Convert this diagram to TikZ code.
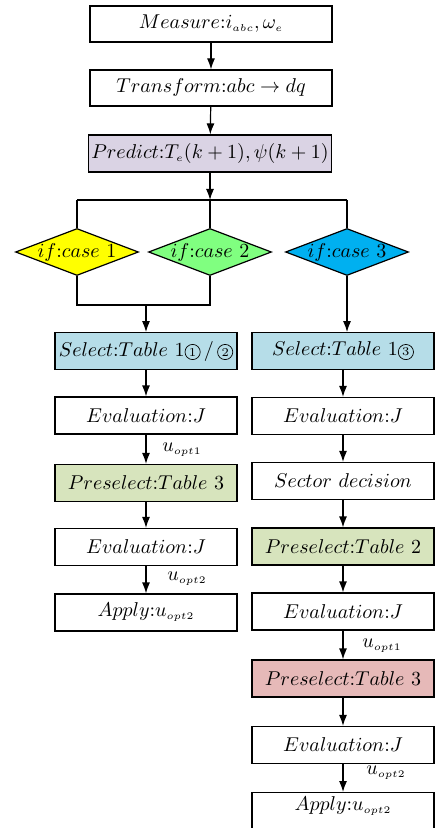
\documentclass[tikz,border=0pt]{standalone}
\usetikzlibrary{shapes.geometric,arrows.meta}
\usepackage{amsmath}
% circled digit drawn as a small outlined circle
\newcommand{\cnum}[1]{\text{\tikz[baseline=(cn.base)]\node[circle,draw,line width=0.35pt,inner sep=0pt,minimum size=7.6pt,font=\fontsize{6}{7}\selectfont] (cn) {#1};}}
\newcommand{\tinysub}[1]{_{\scriptscriptstyle #1}}
\definecolor{lavender}{HTML}{DAD3E4}
\definecolor{selblue}{HTML}{B6DDE8}
\definecolor{preg}{HTML}{D7E4BD}
\definecolor{prer}{HTML}{E6B9B8}
\definecolor{cyel}{HTML}{FFFF00}
\definecolor{cgrn}{HTML}{80FF80}
\definecolor{ccyn}{HTML}{00B0F0}
\begin{document}
\begin{tikzpicture}[x=0.5pt,y=-0.5pt,
  every path/.style={line width=0.6pt},
  wide/.style={draw,rectangle,minimum width=121pt,minimum height=18pt,inner sep=1pt},
  col/.style={draw,rectangle,minimum width=91pt,minimum height=18.5pt,inner sep=1pt},
  dec/.style={draw,diamond,minimum width=61.5pt,minimum height=23.5pt,inner sep=0pt},
  arr/.style={-{Latex[length=5.5pt,width=4pt]}},
  lab/.style={inner sep=0pt}]
\useasboundingbox (0,0) rectangle (435,828);

% main chain
\node[wide] (meas) at (211,24) {$Measure{:}i\tinysub{abc},\omega\tinysub{e}$};
\node[wide] (trans) at (211,88) {$Transform{:}abc\rightarrow dq$};
\node[wide,fill=lavender,minimum width=121.5pt,minimum height=18.5pt] (pred) at (210,153.5) {$Predict{:}T\tinysub{e}(k+1),\psi(k+1)$};
\draw[arr] (meas) -- (trans);
\draw[arr] (trans) -- (pred);

% branching
\coordinate (split) at (210,200);
\coordinate (sl) at (77,200);
\coordinate (sr) at (347,200);
\draw[arr] (pred) -- (split);
\draw (sl) -- (sr);

\node[dec,fill=cyel] (c1) at (77,252) {\makebox[0pt]{$if{:}case\ 1$}};
\node[dec,fill=cgrn] (c2) at (210,252) {\makebox[0pt]{$if{:}case\ 2$}};
\node[dec,fill=ccyn] (c3) at (347,252) {\makebox[0pt]{$if{:}case\ 3$}};
\draw (sl) -- (c1.north);
\draw (split) -- (c2.north);
\draw (sr) -- (c3.north);

\coordinate (j1) at (77,305);
\coordinate (j2) at (210,305);
\coordinate (jm) at (146,305);
\draw (c1.south) -- (j1) -- (j2) -- (c2.south);

% left column
\node[col,fill=selblue] (selA) at (146,351) {$Select{:}Table\ 1\cnum{1}\,/\,\cnum{2}$};
\node[col] (evA) at (146,415.5) {$Evaluation{:}J$};
\node[col,fill=preg] (preA) at (146,483) {$Preselect{:}Table\ 3$};
\node[col] (evB) at (146,547) {$Evaluation{:}J$};
\node[col] (appA) at (146,612.5) {$Apply{:}u\tinysub{opt2}$};
\draw[arr] (jm) -- (selA);
\draw[arr] (selA) -- (evA);
\draw[arr] (evA) -- (preA);
\draw[arr] (preA) -- (evB);
\draw[arr] (evB) -- (appA);
\node[lab] (uA1) at (182,450) {$u\tinysub{opt1}$};
\node[lab] (uA2) at (187,579) {$u\tinysub{opt2}$};

% right column
\node[col,fill=selblue] (selC) at (343,351) {$Select{:}Table\ 1\cnum{3}$};
\node[col] (evC) at (343,416) {$Evaluation{:}J$};
\node[col] (sec) at (343,481) {$Sector\ decision$};
\node[col,fill=preg] (preC) at (343,546.5) {$Preselect{:}Table\ 2$};
\node[col] (evD) at (343,611.5) {$Evaluation{:}J$};
\node[col,fill=prer] (preD) at (343,678.5) {$Preselect{:}Table\ 3$};
\node[col] (evE) at (343,745) {$Evaluation{:}J$};
\node[col,anchor=north,text height=7pt,text depth=8pt] (appC) at (343,792) {$Apply{:}u\tinysub{opt2}$};
\draw[arr] (c3.south) -- (c3.south |- selC.north);
\draw[arr] (selC) -- (evC);
\draw[arr] (evC) -- (sec);
\draw[arr] (sec) -- (preC);
\draw[arr] (preC) -- (evD);
\draw[arr] (evD) -- (preD);
\draw[arr] (preD) -- (evE);
\draw[arr] (evE) -- (appC);
\node[lab] (uC1) at (382,646) {$u\tinysub{opt1}$};
\node[lab] (uC2) at (386,773) {$u\tinysub{opt2}$};
\end{tikzpicture}
\end{document}
